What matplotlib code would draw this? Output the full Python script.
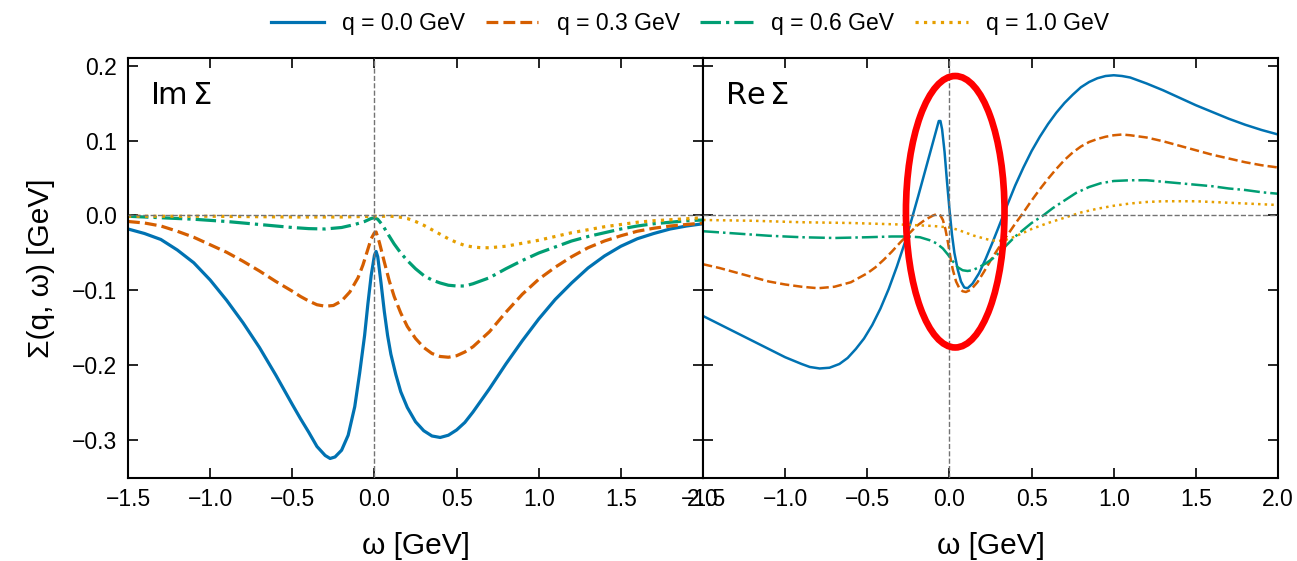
import matplotlib

matplotlib.use("Agg")
import matplotlib.pyplot as plt
from matplotlib.patches import Ellipse

plt.rcParams["font.family"] = ["Liberation Sans", "DejaVu Sans"]
plt.rcParams["mathtext.fontset"] = "dejavusans"

LABELS = ["q = 0.0 GeV", "q = 0.3 GeV", "q = 0.6 GeV", "q = 1.0 GeV"]
COLORS = ["#0072B2", "#D55E00", "#009E73", "#E69F00"]
STYLES = ["-", "--", "-.", ":"]

# Im Sigma(q, omega)
w_im_q00 = [-1.5, -1.4, -1.3, -1.2, -1.1, -1.0, -0.9, -0.8, -0.7, -0.6, -0.5, -0.45, -0.4, -0.35,
            -0.3, -0.27, -0.24, -0.2, -0.16, -0.12, -0.09, -0.06, -0.04, -0.02, 0.0, 0.01, 0.02,
            0.04, 0.06, 0.08, 0.1, 0.13, 0.16, 0.2, 0.25, 0.3, 0.35, 0.4, 0.45, 0.5, 0.55, 0.6,
            0.7, 0.8, 0.9, 1.0, 1.1, 1.2, 1.3, 1.4, 1.5, 1.6, 1.7, 1.8, 1.9, 2.0]
im_q00 = [-0.018, -0.024, -0.032, -0.046, -0.063, -0.086, -0.113, -0.143, -0.176, -0.213, -0.252,
          -0.271, -0.289, -0.308, -0.320, -0.324, -0.322, -0.313, -0.293, -0.255, -0.210, -0.160,
          -0.118, -0.080, -0.053, -0.048, -0.055, -0.090, -0.128, -0.160, -0.185, -0.212, -0.235,
          -0.256, -0.275, -0.287, -0.294, -0.296, -0.293, -0.286, -0.276, -0.262, -0.231, -0.198,
          -0.167, -0.138, -0.112, -0.090, -0.070, -0.054, -0.041, -0.031, -0.024, -0.018, -0.014,
          -0.011]

w_im_q03 = [-1.5, -1.4, -1.3, -1.2, -1.1, -1.0, -0.9, -0.8, -0.7, -0.6, -0.5, -0.45, -0.4, -0.35,
            -0.3, -0.25, -0.2, -0.15, -0.1, -0.07, -0.04, -0.02, 0.0, 0.01, 0.03, 0.06, 0.09, 0.12,
            0.16, 0.2, 0.25, 0.3, 0.35, 0.4, 0.45, 0.5, 0.55, 0.6, 0.7, 0.8, 0.9, 1.0, 1.1, 1.2,
            1.3, 1.4, 1.5, 1.6, 1.7, 1.8, 1.9, 2.0]
im_q03 = [-0.008, -0.010, -0.014, -0.021, -0.029, -0.039, -0.049, -0.061, -0.074, -0.088, -0.101,
          -0.108, -0.114, -0.119, -0.121, -0.120, -0.114, -0.102, -0.083, -0.066, -0.045, -0.031,
          -0.023, -0.022, -0.036, -0.062, -0.087, -0.108, -0.130, -0.148, -0.164, -0.176, -0.184,
          -0.188, -0.189, -0.187, -0.182, -0.175, -0.155, -0.129, -0.105, -0.085, -0.069, -0.055,
          -0.043, -0.034, -0.027, -0.021, -0.017, -0.014, -0.012, -0.010]

w_im_q06 = [-1.5, -1.3, -1.1, -0.9, -0.7, -0.5, -0.4, -0.3, -0.2, -0.12, -0.06, -0.02, 0.0, 0.02,
            0.05, 0.08, 0.12, 0.16, 0.2, 0.25, 0.3, 0.35, 0.4, 0.45, 0.5, 0.55, 0.6, 0.7, 0.8,
            0.9, 1.0, 1.1, 1.2, 1.3, 1.4, 1.5, 1.6, 1.7, 1.8, 1.9, 2.0]
im_q06 = [-0.001, -0.003, -0.005, -0.008, -0.012, -0.016, -0.0175, -0.018, -0.016, -0.012, -0.008,
          -0.004, -0.003, -0.005, -0.013, -0.024, -0.038, -0.050, -0.060, -0.071, -0.080, -0.086,
          -0.090, -0.093, -0.094, -0.094, -0.091, -0.083, -0.071, -0.060, -0.050, -0.042, -0.034,
          -0.028, -0.023, -0.018, -0.014, -0.011, -0.009, -0.007, -0.006]

w_im_q10 = [-1.5, -1.0, -0.5, -0.2, 0.0, 0.1, 0.15, 0.2, 0.25, 0.3, 0.35, 0.4, 0.45, 0.5, 0.55,
            0.6, 0.65, 0.7, 0.8, 0.9, 1.0, 1.1, 1.2, 1.3, 1.4, 1.5, 1.6, 1.7, 1.85, 2.0]
im_q10 = [-0.001, -0.001, -0.002, -0.002, -0.001, -0.001, -0.002, -0.004, -0.008, -0.013, -0.019,
          -0.025, -0.031, -0.036, -0.040, -0.042, -0.043, -0.043, -0.041, -0.037, -0.033, -0.028,
          -0.023, -0.019, -0.015, -0.012, -0.009, -0.007, -0.005, -0.003]

# Re Sigma(q, omega)
w_re_q00 = [-1.5, -1.4, -1.3, -1.2, -1.1, -1.0, -0.9, -0.85, -0.79, -0.73, -0.67, -0.62, -0.57,
            -0.52, -0.47, -0.42, -0.37, -0.32, -0.27, -0.23, -0.19, -0.15, -0.11, -0.08, -0.065,
            -0.055, -0.045, -0.03, -0.015, 0.0, 0.015, 0.03, 0.05, 0.07, 0.09, 0.11, 0.14, 0.18,
            0.22, 0.26, 0.3, 0.35, 0.4, 0.45, 0.5, 0.55, 0.6, 0.65, 0.7, 0.75, 0.8, 0.85, 0.9,
            0.95, 1.0, 1.05, 1.1, 1.2, 1.3, 1.4, 1.5, 1.6, 1.7, 1.8, 1.9, 2.0]
re_q00 = [-0.134, -0.145, -0.156, -0.167, -0.178, -0.189, -0.198, -0.202, -0.204, -0.203, -0.198,
          -0.190, -0.178, -0.164, -0.146, -0.124, -0.098, -0.068, -0.035, -0.005, 0.026, 0.058,
          0.090, 0.114, 0.126, 0.126, 0.115, 0.085, 0.045, 0.008, -0.025, -0.050, -0.072, -0.088,
          -0.096, -0.097, -0.091, -0.077, -0.058, -0.037, -0.015, 0.013, 0.040, 0.064, 0.086,
          0.105, 0.122, 0.137, 0.150, 0.161, 0.171, 0.178, 0.183, 0.186, 0.187, 0.186, 0.184,
          0.176, 0.167, 0.157, 0.147, 0.138, 0.129, 0.121, 0.114, 0.108]

w_re_q03 = [-1.5, -1.4, -1.3, -1.2, -1.1, -1.0, -0.9, -0.8, -0.7, -0.6, -0.5, -0.45, -0.4, -0.35,
            -0.3, -0.25, -0.2, -0.15, -0.1, -0.075, -0.055, -0.04, -0.025, -0.01, 0.005, 0.02,
            0.04, 0.06, 0.08, 0.1, 0.13, 0.17, 0.21, 0.25, 0.3, 0.35, 0.4, 0.45, 0.5, 0.55, 0.6,
            0.65, 0.7, 0.75, 0.8, 0.85, 0.9, 0.95, 1.0, 1.05, 1.1, 1.2, 1.3, 1.4, 1.5, 1.6, 1.7,
            1.8, 1.9, 2.0]
re_q03 = [-0.065, -0.070, -0.076, -0.082, -0.088, -0.092, -0.095, -0.097, -0.095, -0.089, -0.077,
          -0.069, -0.059, -0.048, -0.036, -0.025, -0.014, -0.006, 0.000, 0.002, 0.000, -0.006,
          -0.018, -0.035, -0.055, -0.072, -0.088, -0.097, -0.101, -0.102, -0.099, -0.089, -0.075,
          -0.060, -0.043, -0.027, -0.011, 0.004, 0.020, 0.035, 0.049, 0.062, 0.074, 0.084, 0.092,
          0.098, 0.102, 0.105, 0.107, 0.108, 0.107, 0.104, 0.099, 0.093, 0.087, 0.081, 0.076,
          0.071, 0.067, 0.064]

w_re_q06 = [-1.5, -1.3, -1.1, -0.9, -0.7, -0.5, -0.35, -0.25, -0.18, -0.12, -0.08, -0.04, -0.01,
            0.02, 0.05, 0.08, 0.11, 0.14, 0.18, 0.22, 0.26, 0.3, 0.35, 0.4, 0.45, 0.5, 0.57, 0.63,
            0.7, 0.77, 0.85, 0.92, 1.0, 1.1, 1.2, 1.3, 1.4, 1.5, 1.6, 1.7, 1.8, 1.9, 2.0]
re_q06 = [-0.021, -0.024, -0.027, -0.029, -0.030, -0.029, -0.028, -0.028, -0.029, -0.033, -0.037,
          -0.044, -0.052, -0.061, -0.069, -0.073, -0.074, -0.073, -0.069, -0.064, -0.058, -0.050,
          -0.039, -0.028, -0.019, -0.010, 0.000, 0.010, 0.020, 0.030, 0.038, 0.043, 0.046, 0.047,
          0.047, 0.045, 0.043, 0.041, 0.039, 0.036, 0.034, 0.031, 0.029]

w_re_q10 = [-1.5, -1.2, -0.9, -0.6, -0.3, -0.1, 0.0, 0.05, 0.1, 0.15, 0.2, 0.25, 0.3, 0.35, 0.4,
            0.45, 0.5, 0.55, 0.6, 0.7, 0.8, 0.9, 1.0, 1.1, 1.2, 1.3, 1.4, 1.5, 1.6, 1.7, 1.8, 1.9,
            2.0]
re_q10 = [-0.006, -0.007, -0.009, -0.010, -0.012, -0.014, -0.016, -0.019, -0.023, -0.027, -0.030,
          -0.033, -0.034, -0.032, -0.028, -0.023, -0.018, -0.014, -0.010, -0.003, 0.004, 0.009,
          0.013, 0.016, 0.018, 0.019, 0.019, 0.019, 0.018, 0.017, 0.016, 0.015, 0.014]

IM_W = [w_im_q00, w_im_q03, w_im_q06, w_im_q10]
IM_S = [im_q00, im_q03, im_q06, im_q10]
RE_W = [w_re_q00, w_re_q03, w_re_q06, w_re_q10]
RE_S = [re_q00, re_q03, re_q06, re_q10]

fig, (ax_im, ax_re) = plt.subplots(1, 2, sharey=True, figsize=(12.97, 5.61), dpi=100)
fig.subplots_adjust(left=0.0987, right=0.9854, top=0.8966, bottom=0.148, wspace=0)

for ax, ws, ss, lw in ((ax_im, IM_W, IM_S, 2.3), (ax_re, RE_W, RE_S, 1.8)):
    for w, s, color, style, label in zip(ws, ss, COLORS, STYLES, LABELS):
        ax.plot(w, s, color=color, ls=style, lw=lw, label=label)
    ax.axhline(0, color="0.45", ls="--", lw=1.0, zorder=3)
    ax.axvline(0, color="0.45", ls="--", lw=1.0, zorder=3)
    ax.set_xlim(-1.5, 2.0)
    ax.set_xticks([-1.5, -1.0, -0.5, 0.0, 0.5, 1.0, 1.5, 2.0])
    ax.set_xlabel("ω [GeV]", fontsize=21.5, labelpad=15)
    ax.tick_params(direction="in", top=True, right=True, length=7, width=1.2,
                   labelsize=16.5)
    ax.tick_params(axis="x", pad=7)
    ax.tick_params(axis="y", pad=8)
    for spine in ax.spines.values():
        spine.set_linewidth(1.5)

ax_im.set_ylim(-0.35, 0.21)
ax_im.set_yticks([-0.3, -0.2, -0.1, 0.0, 0.1, 0.2])
ax_im.set_ylabel("Σ(q, ω) [GeV]", fontsize=21.5, labelpad=12)

ax_im.text(0.038, 0.91, r"$\mathrm{Im}\,\Sigma$", transform=ax_im.transAxes,
           fontsize=22, va="center", ha="left")
ax_re.text(0.038, 0.91, r"$\mathrm{Re}\,\Sigma$", transform=ax_re.transAxes,
           fontsize=22, va="center", ha="left")

# highlight the low-energy structure of Re Sigma
ax_re.add_patch(Ellipse((0.035, 0.005), 0.60, 0.362, fill=False, edgecolor="#ff0000",
                        lw=4.8, zorder=5))

handles, labels = ax_im.get_legend_handles_labels()
fig.legend(handles, labels, loc="upper center", bbox_to_anchor=(0.532, 1.015), ncol=4,
           frameon=False, fontsize=16.5, handlelength=2.3, handletextpad=0.8,
           columnspacing=0.9)

fig.savefig("out.png", dpi=100, facecolor="white")
